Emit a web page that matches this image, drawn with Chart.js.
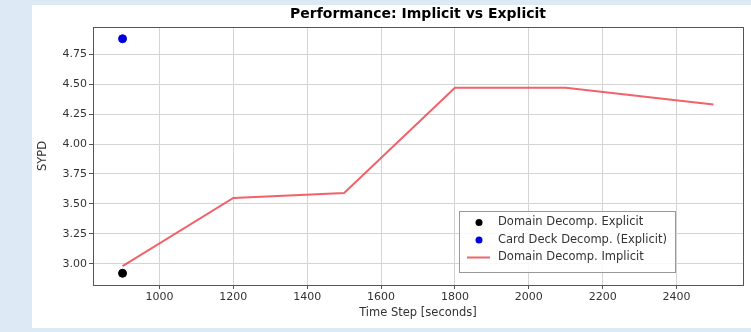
<!DOCTYPE html>
<html>
<head>
<meta charset="utf-8">
<script src="https://cdn.jsdelivr.net/npm/chart.js@4/dist/chart.umd.min.js"></script>
<style>
  html, body { margin: 0; padding: 0; background: #dde9f5; }
  #wrap { position: relative; width: 751px; height: 332px; }
  #panel { position: absolute; left: 32px; top: 5px; right: 0; bottom: 4px; background: #ffffff; }
  canvas { position: absolute; left: 0; top: 0; }
</style>
</head>
<body>
<div id="wrap">
  <div id="panel"></div>
  <canvas id="c" width="751" height="332"></canvas>
</div>
<script>
// Time steps (seconds) and simulated years per day
const implicitSteps = [900, 1200, 1500, 1800, 2100, 2500];
const implicitSYPD  = [2.98, 3.55, 3.59, 4.47, 4.47, 4.33];
const explicitSteps = [900];
const explicitSYPD  = [2.92];
const cardDeckSteps = [900];
const cardDeckSYPD  = [4.88];

const xTicks = [1000, 1200, 1400, 1600, 1800, 2000, 2200, 2400];
const yTicks = [3.00, 3.25, 3.50, 3.75, 4.00, 4.25, 4.50, 4.75];
const yTickLabels = ['3.00', '3.25', '3.50', '3.75', '4.00', '4.25', '4.50', '4.75'];

const toPoints = (xs, ys) => xs.map((x, i) => ({ x: x, y: ys[i] }));

const FONT = 'DejaVu Sans';

// Box around the whole plotting area
const framePlugin = {
  id: 'frame',
  afterDatasetsDraw(chart) {
    const { ctx, chartArea: a } = chart;
    ctx.save();
    ctx.strokeStyle = '#555';
    ctx.lineWidth = 1;
    ctx.strokeRect(Math.round(a.left) + 0.5, Math.round(a.top) + 0.5,
                   Math.round(a.right - a.left), Math.round(a.bottom - a.top));
    ctx.restore();
  }
};

// Legend box inside the axes, lower right
const innerLegend = {
  id: 'innerLegend',
  afterDraw(chart) {
    const { ctx, chartArea: a } = chart;
    const w = 216, h = 61;
    const x0 = a.right - 68 - w, y0 = a.bottom - 13 - h;
    ctx.save();
    ctx.fillStyle = 'rgba(255,255,255,0.85)';
    ctx.fillRect(x0, y0, w, h);
    ctx.strokeStyle = '#999';
    ctx.lineWidth = 1;
    ctx.strokeRect(Math.round(x0) + 0.5, Math.round(y0) + 0.5, w, h);
    ctx.font = '11.5px "' + FONT + '"';
    ctx.textBaseline = 'middle';
    chart.data.datasets.forEach((ds, i) => {
      const cy = y0 + 11.5 + i * 17.5;
      if (ds.showLine) {
        ctx.strokeStyle = ds.borderColor;
        ctx.lineWidth = 2;
        ctx.beginPath();
        ctx.moveTo(x0 + 8, cy);
        ctx.lineTo(x0 + 31, cy);
        ctx.stroke();
      } else {
        ctx.fillStyle = ds.backgroundColor;
        ctx.beginPath();
        ctx.arc(x0 + 20, cy, 3.5, 0, Math.PI * 2);
        ctx.fill();
      }
      ctx.fillStyle = '#333';
      ctx.fillText(ds.label, x0 + 39, cy);
    });
    ctx.restore();
  }
};

new Chart(document.getElementById('c'), {
  type: 'scatter',
  data: {
    datasets: [
      {
        label: 'Domain Decomp. Explicit',
        data: toPoints(explicitSteps, explicitSYPD),
        backgroundColor: '#000000',
        borderColor: '#000000',
        pointRadius: 4,
        showLine: false
      },
      {
        label: 'Card Deck Decomp. (Explicit)',
        data: toPoints(cardDeckSteps, cardDeckSYPD),
        backgroundColor: '#0000dd',
        borderColor: '#0000dd',
        pointRadius: 4,
        showLine: false
      },
      {
        label: 'Domain Decomp. Implicit',
        data: toPoints(implicitSteps, implicitSYPD),
        borderColor: 'rgba(238,70,80,0.85)',
        backgroundColor: 'rgba(238,70,80,0.85)',
        borderWidth: 2,
        pointRadius: 0,
        showLine: true,
        tension: 0
      }
    ]
  },
  options: {
    responsive: false,
    animation: false,
    layout: { padding: { left: 32, top: 0, right: 8, bottom: 4 } },
    plugins: {
      legend: { display: false },
      tooltip: { enabled: false },
      title: {
        display: true,
        text: 'Performance: Implicit vs Explicit',
        fullSize: false,
        color: '#000',
        font: { family: FONT, size: 14, weight: 'bold' },
        padding: { top: 5.6, bottom: 4.6 }
      }
    },
    scales: {
      x: {
        type: 'linear',
        min: 820,
        max: 2580,
        afterBuildTicks: s => { s.ticks = xTicks.map(v => ({ value: v })); },
        afterFit: s => { s.height = 43; },
        ticks: {
          color: '#333',
          font: { family: FONT, size: 11 },
          padding: 2,
          maxRotation: 0,
          callback: v => String(v)
        },
        grid: { color: '#d4d4d4', tickColor: '#555', tickLength: 4, lineWidth: 1 },
        border: { display: false },
        title: {
          display: true,
          text: 'Time Step [seconds]',
          color: '#333',
          font: { family: FONT, size: 11.5 },
          padding: 8
        }
      },
      y: {
        type: 'linear',
        min: 2.822,
        max: 4.978,
        afterBuildTicks: s => { s.ticks = yTicks.map(v => ({ value: v })); },
        afterFit: s => { s.width = 61; },
        ticks: {
          color: '#333',
          font: { family: FONT, size: 11 },
          padding: 2,
          callback: v => yTickLabels[yTicks.indexOf(v)] ?? v
        },
        grid: { color: '#d4d4d4', tickColor: '#555', tickLength: 4, lineWidth: 1 },
        border: { display: false },
        title: {
          display: true,
          text: 'SYPD',
          color: '#333',
          font: { family: FONT, size: 11.5 },
          padding: 4
        }
      }
    }
  },
  plugins: [framePlugin, innerLegend]
});
</script>
</body>
</html>
